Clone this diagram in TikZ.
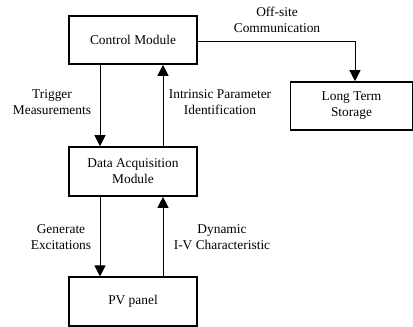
\documentclass[tikz,border=0pt]{standalone}
\usepackage{fontspec}
\setmainfont{Liberation Serif}
\usetikzlibrary{arrows.meta}
\begin{document}
\begin{tikzpicture}[x=1pt,y=-1pt,
  box/.style={draw,line width=1.6pt,minimum width=128pt,minimum height=48pt,inner sep=0pt,align=center,font=\rmfamily\fontsize{13.4}{16}\selectfont},
  lbl/.style={align=center,inner sep=0pt,font=\rmfamily\fontsize{13.4}{16}\selectfont},
  conn/.style={line width=1pt,-{Triangle[width=11pt,length=11pt]}}]
\useasboundingbox (0,0) rectangle (413,327);
\node[box] (cm) at (133,40) {Control Module};
\node[box,minimum width=122pt] (lts) at (351.5,106) {Long Term\\Storage};
\node[box,minimum height=49pt] (daq) at (133,171.5) {Data Acquisition\\Module};
\node[box,minimum height=48.5pt] (pv) at (133,301.5) {PV panel};
\coordinate (corner) at (355,41);
\draw[conn] (cm.east |- corner) -- (corner) -- (corner |- lts.north);
\draw[conn] (cm.south -| 100,0) -- (daq.north -| 100,0);
\draw[conn] (daq.north -| 163,0) -- (cm.south -| 163,0);
\draw[conn] (daq.south -| 100,0) -- (pv.north -| 100,0);
\draw[conn] (pv.north -| 163,0) -- (daq.south -| 163,0);
\node[lbl] (l1) at (277,20) {Off-site\\Communication};
\node[lbl] (l2) at (52,102) {Trigger\\Measurements};
\node[lbl] (l3) at (220,102) {Intrinsic Parameter\\Identification};
\node[lbl] (l4) at (61,237) {Generate\\Excitations};
\node[lbl] (l5) at (222,237) {Dynamic\\I-V Characteristic};
\end{tikzpicture}
\end{document}
